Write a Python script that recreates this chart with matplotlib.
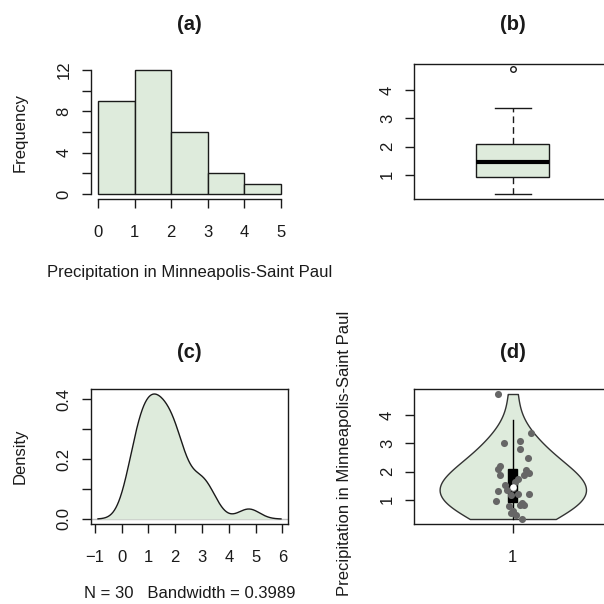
import numpy as np
import matplotlib
matplotlib.use("Agg")
import matplotlib.pyplot as plt

# ---- data: March precipitation, Minneapolis-Saint Paul (30 years) ----
precip = [0.77, 1.74, 0.81, 1.20, 1.95, 1.20, 0.47, 1.43, 3.37, 2.20,
          3.00, 3.09, 1.51, 2.10, 0.52, 1.62, 1.31, 0.32, 0.59, 0.81,
          2.81, 1.87, 1.18, 1.35, 4.75, 2.48, 0.96, 1.89, 0.90, 2.05]
# horizontal jitter of the points in panel (d)
jitter = [-0.02, 0.03, 0.04, 0.03, 0.09, 0.09, 0.02, 0.00, 0.10, -0.07,
          -0.05, 0.04, -0.04, -0.08, -0.01, 0.01, -0.08, 0.05, 0.00, 0.06,
          0.04, -0.07, -0.01, -0.03, -0.08, 0.085, -0.09, 0.06, 0.05, 0.07]
hist_breaks = [0, 1, 2, 3, 4, 5]
bandwidth = 0.3989       # density in panel (c)
violin_bw = 0.72         # smoothing of the violin in panel (d)
titles = ["(a)", "(b)", "(c)", "(d)"]
xlab = "Precipitation in Minneapolis-Saint Paul"

plt.rcParams['font.family'] = ['Liberation Sans', 'DejaVu Sans']
FILL = "#deebdc"
INK = "#1a1a1a"
TFS = 12
MFS = 14.5
W = 604.0

x = np.array(precip)
n = len(x)

fig = plt.figure(figsize=(6.04, 6.04), dpi=100)


def rect(l, t, r, b):
    return [l / W, 1 - b / W, (r - l) / W, (b - t) / W]


def ftext(px, py, s, **kw):
    fig.text(px / W, 1 - py / W, s, ha='center', va='center', color=INK, **kw)


def style(ax, box=True):
    for s in ax.spines.values():
        s.set_color(INK)
        s.set_linewidth(1.0)
        s.set_visible(box)
    ax.tick_params(length=6.7, width=1.0, color=INK, labelsize=TFS,
                   labelcolor=INK, direction='out')
    ax.tick_params(axis='x', pad=12)
    ax.tick_params(axis='y', pad=7)


def rot_y(ax):
    for lab in ax.get_yticklabels():
        lab.set_rotation(90)
        lab.set_va('center')


# ---------------- (a) histogram (right-closed bins, as in R) ----------------
axa = fig.add_axes(rect(90.7, 65, 288.3, 199))
br = np.array(hist_breaks, dtype=float)
neg_counts, _ = np.histogram(-x, bins=-br[::-1])
counts = neg_counts[::-1]
axa.bar(br[:-1], counts, width=np.diff(br), align='edge', color=FILL,
        edgecolor=INK, linewidth=1.0)
axa.set_xlim(-0.2, 5.2)
axa.set_ylim(-0.48, 12.48)
style(axa, box=False)
axa.spines['left'].set_visible(True)
axa.spines['bottom'].set_visible(True)
axa.spines['left'].set_bounds(0, 12)
axa.spines['bottom'].set_bounds(0, 5)
axa.set_xticks(hist_breaks)
axa.set_yticks([0, 2, 4, 6, 8, 10, 12])
axa.set_yticklabels(["0", "", "4", "", "8", "", "12"])
rot_y(axa)

# ---------------- (b) boxplot ----------------
axb = fig.add_axes(rect(414, 64, 611.6, 199))
axb.boxplot(x, positions=[1], widths=0.4, whis=1.5, patch_artist=True,
            boxprops=dict(facecolor=FILL, edgecolor=INK, linewidth=1.0),
            medianprops=dict(color='black', linewidth=3.0),
            whiskerprops=dict(color=INK, linewidth=1.0, dashes=(4.8, 2.9)),
            capprops=dict(color=INK, linewidth=1.0),
            capwidths=0.2,
            flierprops=dict(marker='o', markerfacecolor='none',
                            markeredgecolor=INK, markersize=4.0,
                            markeredgewidth=1.0))
axb.set_xlim(0.46, 1.54)
axb.set_ylim(0.1428, 4.9272)
style(axb)
axb.set_xticks([])
axb.set_yticks([1, 2, 3, 4])
rot_y(axb)

# ---------------- (c) density ----------------
axc = fig.add_axes(rect(90.7, 389, 288.3, 524))
gx = np.linspace(x.min() - 3 * bandwidth, x.max() + 3 * bandwidth, 512)
dens = np.exp(-0.5 * ((gx[:, None] - x[None, :]) / bandwidth) ** 2).sum(axis=1)
dens /= (n * bandwidth * np.sqrt(2 * np.pi))
axc.axhline(0, color='#bebebe', linewidth=1.0, zorder=1)
axc.fill_between(gx, 0, dens, color=FILL, linewidth=0, zorder=2)
axc.plot(gx, dens, color=INK, linewidth=1.0, zorder=3)
xr = gx.max() - gx.min()
axc.set_xlim(gx.min() - 0.04 * xr, gx.max() + 0.04 * xr)
yr = dens.max()
axc.set_ylim(-0.04 * yr, dens.max() + 0.04 * yr)
style(axc)
axc.set_xticks(list(range(-1, 7)))
axc.set_yticks([0.0, 0.1, 0.2, 0.3, 0.4])
axc.set_yticklabels(["0.0", "", "0.2", "", "0.4"])
rot_y(axc)

# ---------------- (d) violin ----------------
axd = fig.add_axes(rect(414, 389, 611.6, 524))
vy = np.linspace(x.min(), x.max(), 200)
vd = np.exp(-0.5 * ((vy[:, None] - x[None, :]) / violin_bw) ** 2).sum(axis=1)
vd = vd / vd.max() * 0.4
axd.fill_betweenx(vy, 1 - vd, 1 + vd, facecolor=FILL, edgecolor='#333333',
                  linewidth=1.0, zorder=2)
q1, med, q3 = np.percentile(x, [25, 50, 75])
iqr = q3 - q1
upper = min(q3 + 1.5 * iqr, x.max())
lower = max(q1 - 1.5 * iqr, x.min())
axd.plot([1, 1], [lower, upper], color='black', linewidth=1.0, zorder=3)
axd.add_patch(plt.Rectangle((1 - 0.025, q1), 0.05, q3 - q1,
                            facecolor='black', edgecolor='black', zorder=4))
axd.scatter(1 + np.array(jitter), x, s=26, color='#666666', linewidths=0,
            zorder=5)
axd.scatter([1], [med], s=22, color='white', linewidths=0, zorder=6)
axd.set_xlim(0.46, 1.54)
axd.set_ylim(0.1428, 4.9272)
style(axd)
axd.set_xticks([1])
axd.set_yticks([1, 2, 3, 4])
rot_y(axd)

# ---------------- texts ----------------
ftext(189.5, 25, titles[0], fontsize=MFS, fontweight='bold')
ftext(512.8, 25, titles[1], fontsize=MFS, fontweight='bold')
ftext(189.5, 352, titles[2], fontsize=MFS, fontweight='bold')
ftext(512.8, 352, titles[3], fontsize=MFS, fontweight='bold')
ftext(189.5, 273, xlab, fontsize=TFS)
ftext(189.5, 593, "N = %d   Bandwidth = %.4f" % (n, bandwidth), fontsize=TFS)
ftext(20, 132, "Frequency", fontsize=TFS, rotation=90)
ftext(20, 456.5, "Density", fontsize=TFS, rotation=90)
ftext(345, 453, xlab, fontsize=TFS, rotation=90)

fig.savefig("out.png", dpi=100)
